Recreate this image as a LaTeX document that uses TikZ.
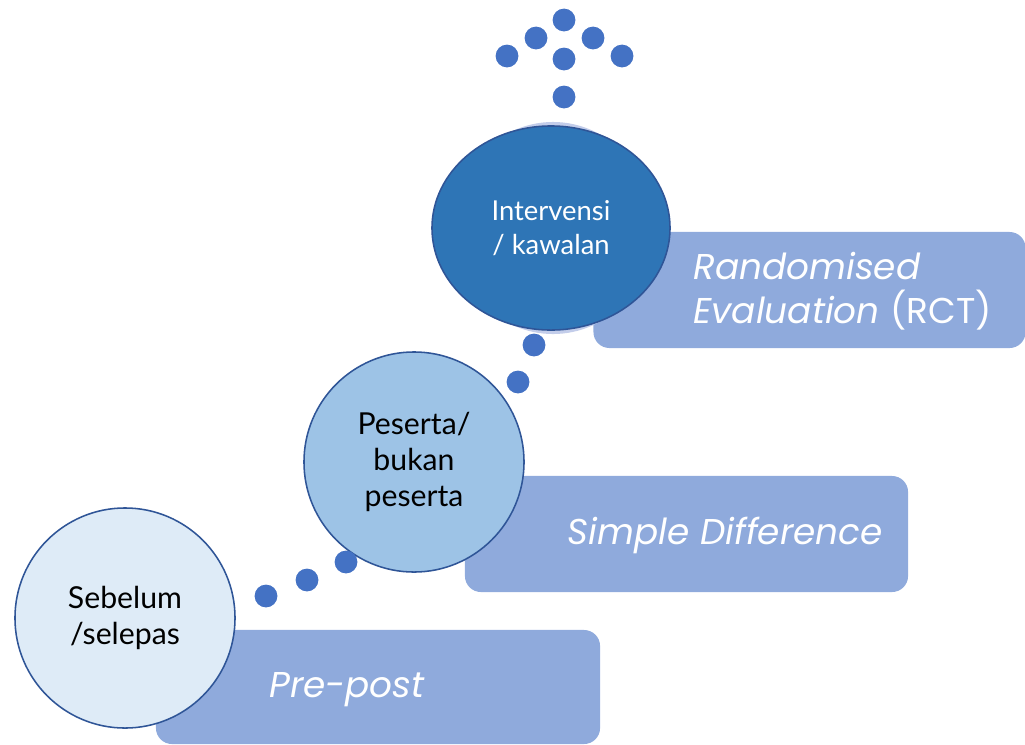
\documentclass[tikz,border=0pt]{standalone}
\usepackage{fontspec}
\setmainfont{Lato}
\newfontfamily\methodfont{Poppins}
\usetikzlibrary{positioning,shapes.geometric}
\definecolor{dotblue}{HTML}{4472C4}
\definecolor{boxblue}{HTML}{8FAADC}
\definecolor{edgeblue}{HTML}{2F5597}
\definecolor{palefill}{HTML}{DEEBF7}
\definecolor{midfill}{HTML}{9DC3E6}
\definecolor{topfill}{HTML}{2E75B6}
\definecolor{haloblue}{HTML}{C3CDEA}
\begin{document}
\begin{tikzpicture}[x=0.025cm,y=-0.025cm]
\tikzstyle{stage} = [circle, draw=edgeblue, line width=1.1pt, minimum size=5.5cm, inner sep=0pt, align=center, font=\fontsize{21.5}{25.6}\selectfont]
\tikzstyle{method} = [rectangle, rounded corners=0.4cm, fill=boxblue, inner sep=0pt]
\tikzstyle{methodtext} = [text=white, inner sep=0pt, font=\methodfont\itshape\fontsize{25.5}{31}\selectfont]
\tikzstyle{dot} = [circle, fill=dotblue, minimum size=0.57cm, inner sep=0pt]
\clip (0,0) rectangle (1025,744);
% method boxes
\node (prebox) [method, minimum width=11.1cm, minimum height=2.85cm] at (378,687) {};
\node (sdbox) [method, minimum width=11.075cm, minimum height=2.9cm] at (686.5,534) {};
\node (rctbox) [method, minimum width=10.8cm, minimum height=2.9cm] at (809.5,290) {};
\node (pretext) [methodtext] at (347,690) {Pre-post};
\node (sdtext) [methodtext] at (725,535) {Simple Difference};
\node (rcttext) [methodtext, align=left, anchor=west] at (693,291) {Randomised\\Evaluation\/ {\upshape(RCT)}};
% stages
\node (before) [stage, fill=palefill] at (125,618) {Sebelum\\/selepas};
\node (partic) [stage, fill=midfill] at (414,462) {Peserta/\\bukan\\peserta};
\node (halo) [ellipse, fill=haloblue, minimum width=5.0cm, minimum height=5.3cm] at (553,228) {};
\node (interv) [ellipse, draw=edgeblue, line width=1.1pt, fill=topfill, text=white, minimum width=5.95cm, minimum height=5.1cm, align=center, font=\fontsize{19.5}{24}\selectfont] at (551,228) {Intervensi\\/ kawalan};
% dots
\foreach \px/\py in {266/596, 307/580, 346/562, 518/382, 534/345, 564/97, 507/56, 536/38, 564/20, 593/38, 622/56, 564/59}
  \node[dot] at (\px,\py) {};
\end{tikzpicture}
\end{document}
